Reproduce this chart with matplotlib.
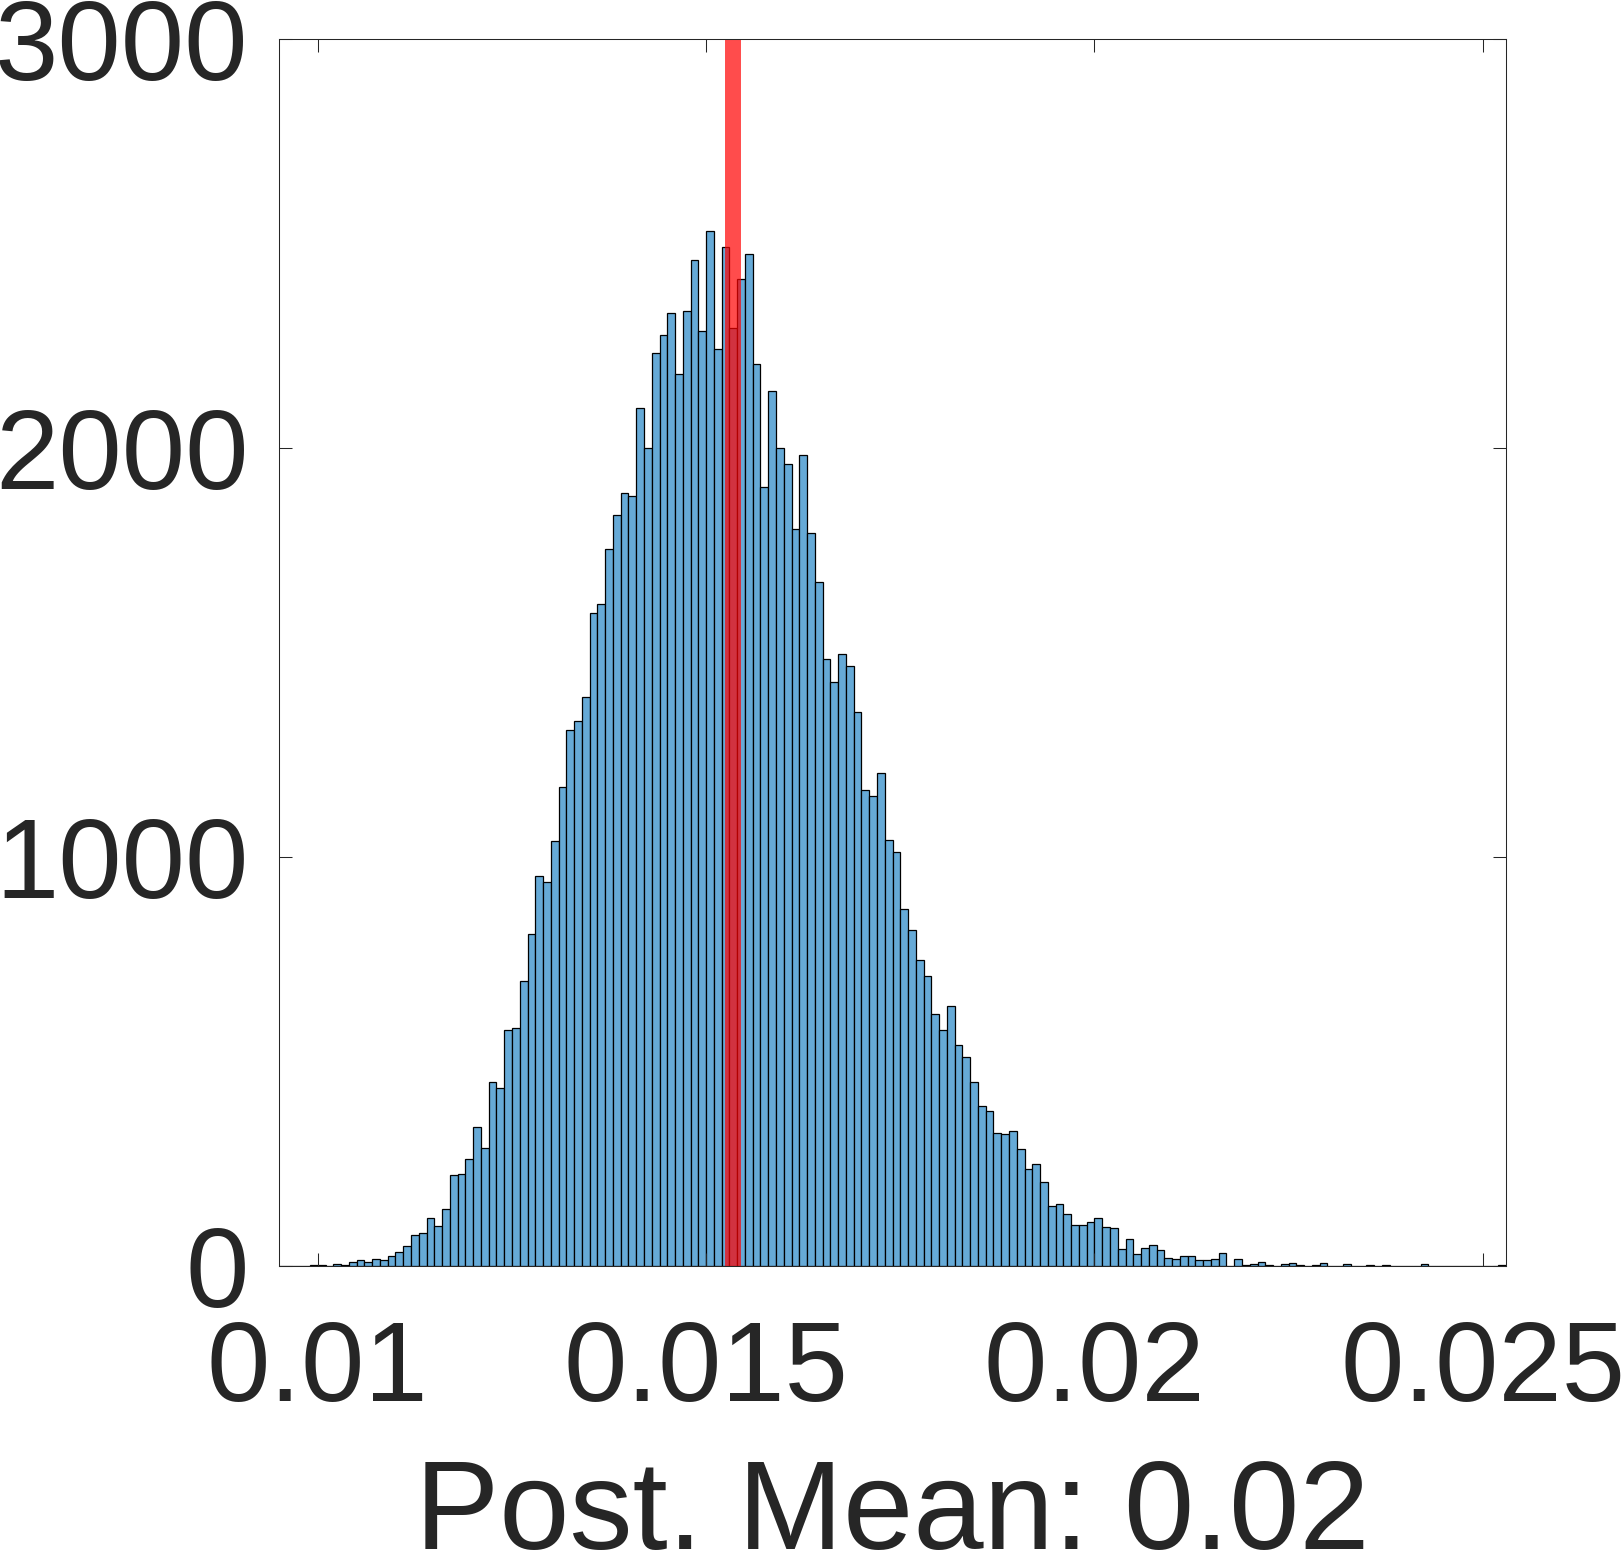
import numpy as np
import matplotlib
matplotlib.use('Agg')
import matplotlib.pyplot as plt

plt.rcParams['font.family'] = ['Liberation Sans', 'DejaVu Sans']

# histogram of posterior draws, bins of width 1e-4 starting at 0.0095
bin_start = 0.0095
bin_width = 0.0001
counts = [
    1, 0, 1, 1, 2, 3, 0, 6, 2, 9,
    14, 11, 17, 15, 25, 35, 50, 75, 81, 118,
    97, 139, 223, 224, 262, 341, 288, 450, 434, 577,
    581, 696, 812, 954, 938, 1040, 1171, 1311, 1333, 1390,
    1597, 1619, 1752, 1835, 1891, 1882, 2098, 2001, 2232, 2276,
    2329, 2182, 2334, 2459, 2286, 2530, 2241, 2492, 2294, 2413,
    2475, 2205, 1904, 2140, 2001, 1960, 1802, 1984, 1793, 1673,
    1485, 1428, 1496, 1466, 1355, 1163, 1148, 1205, 1041, 1012,
    874, 821, 748, 708, 616, 578, 635, 541, 512, 449,
    392, 379, 325, 322, 331, 287, 236, 249, 206, 146,
    152, 126, 101, 101, 108, 117, 95, 93, 42, 65,
    30, 44, 51, 40, 20, 18, 24, 24, 15, 14,
    17, 31, 0, 16, 2, 6, 9, 2, 0, 5,
    7, 3, 0, 2, 7, 1, 0, 4, 0, 0,
    2, 0, 3, 1, 0, 0, 1, 4, 0, 0,
    1, 1, 0, 0, 0, 0, 0, 2,
]
true_value = 0.015346
x_ticks = [0.01, 0.015, 0.02, 0.025]
x_ticklabels = ['0.01', '0.015', '0.02', '0.025']
y_ticks = [0, 1000, 2000, 3000]
xlabel = 'Post. Mean: 0.02'

edges = bin_start + bin_width * np.arange(len(counts) + 1)

fig = plt.figure(figsize=(16.21, 15.53), dpi=100)
ax = fig.add_axes([0.1721, 0.1848, 0.9291 - 0.1721, 0.9749 - 0.1848])

ax.bar(edges[:-1], counts, width=bin_width, align='edge',
       color='#66AAD7', edgecolor='black', linewidth=0.9)
ax.axvline(true_value, color='red', alpha=0.7, linewidth=11.5)

ax.set_xlim(edges[0], edges[-1])
ax.set_ylim(0, 3000)
ax.set_xticks(x_ticks)
ax.set_xticklabels(x_ticklabels)
ax.set_yticks(y_ticks)

dark = '#262626'
for s in ax.spines.values():
    s.set_color(dark)
    s.set_linewidth(0.75)
ax.tick_params(direction='in', length=9.4, width=0.75, color=dark,
               labelcolor=dark, labelsize=82, top=True, right=True)
ax.tick_params(axis='x', pad=38)
ax.tick_params(axis='y', pad=22)
ax.set_xlabel(xlabel, fontsize=91, color=dark, labelpad=23)

fig.savefig('out.png', dpi=100)
